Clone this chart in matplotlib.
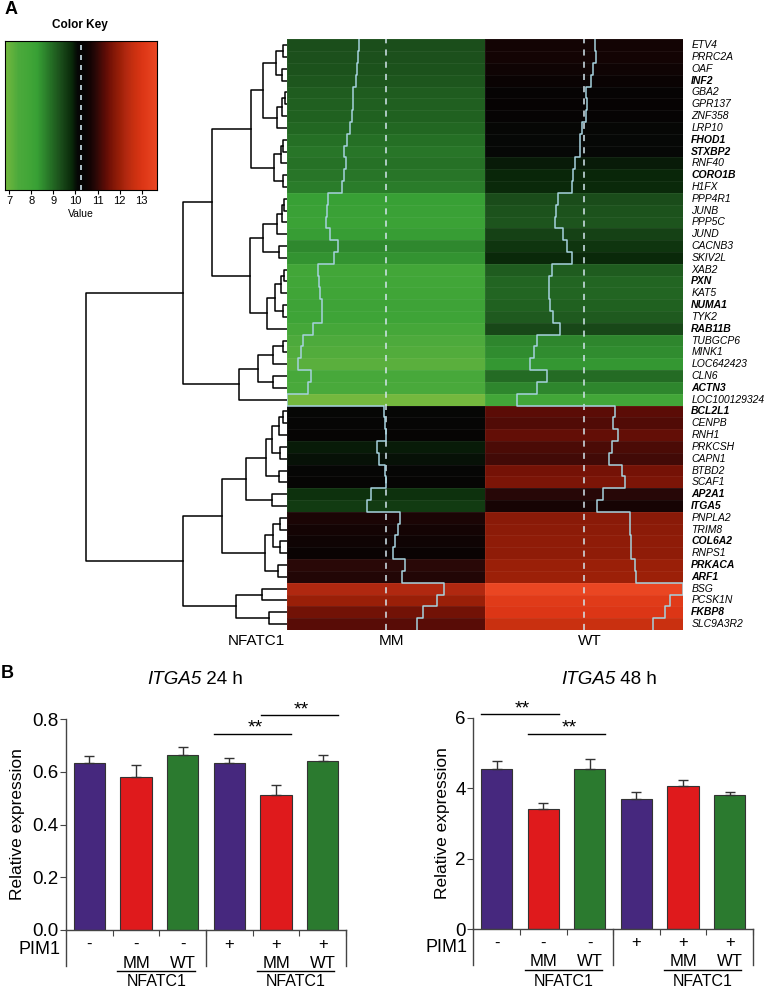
import matplotlib
matplotlib.use('Agg')
import matplotlib.pyplot as plt
import matplotlib.ticker as mticker
import matplotlib.transforms as mtrans
import numpy as np
from matplotlib.colors import LinearSegmentedColormap, Normalize

plt.rcParams['font.family'] = ['Liberation Sans', 'DejaVu Sans']

W, H = 768, 992

# ----------------------------------------
# Heatmap data (panel A)
# ----------------------------------------
genes = ['ETV4', 'PRRC2A', 'OAF', 'INF2', 'GBA2', 'GPR137', 'ZNF358', 'LRP10',
         'FHOD1', 'STXBP2', 'RNF40', 'CORO1B', 'H1FX', 'PPP4R1', 'JUNB', 'PPP5C',
         'JUND', 'CACNB3', 'SKIV2L', 'XAB2', 'PXN', 'KAT5', 'NUMA1', 'TYK2',
         'RAB11B', 'TUBGCP6', 'MINK1', 'LOC642423', 'CLN6', 'ACTN3', 'LOC100129324',
         'BCL2L1', 'CENPB', 'RNH1', 'PRKCSH', 'CAPN1', 'BTBD2', 'SCAF1', 'AP2A1',
         'ITGA5', 'PNPLA2', 'TRIM8', 'COL6A2', 'RNPS1', 'PRKACA', 'ARF1', 'BSG',
         'PCSK1N', 'FKBP8', 'SLC9A3R2']
bold_genes = ['INF2', 'FHOD1', 'STXBP2', 'CORO1B', 'PXN', 'NUMA1', 'RAB11B', 'ACTN3',
              'BCL2L1', 'AP2A1', 'ITGA5', 'COL6A2', 'PRKACA', 'ARF1', 'FKBP8']
mm_values = [9.32, 9.29, 9.26, 9.21, 9.12, 9.10, 9.07, 9.00, 8.89, 8.80, 8.86, 8.80,
             8.72, 8.25, 8.19, 8.17, 8.30, 8.57, 8.43, 7.88, 7.93, 7.96, 8.04, 8.02,
             7.73, 7.38, 7.29, 7.18, 7.63, 7.55, 6.82, 10.19, 10.22, 10.26, 9.93,
             10.02, 10.22, 10.26, 9.72, 9.60, 10.74, 10.68, 10.57, 10.49, 10.92,
             10.82, 12.29, 12.02, 11.56, 11.32]
wt_values = [10.63, 10.65, 10.55, 10.48, 10.33, 10.36, 10.31, 10.17, 10.11, 10.09,
             9.93, 9.87, 9.82, 9.35, 9.27, 9.23, 9.50, 9.67, 9.84, 9.12, 9.03, 9.03,
             9.07, 9.16, 9.41, 8.60, 8.52, 8.37, 8.94, 8.60, 7.90, 11.34, 11.27,
             11.43, 11.21, 11.13, 11.58, 11.67, 10.89, 10.70, 11.83, 11.85, 11.87,
             11.88, 12.02, 12.05, 13.70, 13.24, 13.06, 12.65]
columns = ['MM', 'WT']
key_min, key_max = 6.8, 13.7
key_ticks = [7, 8, 9, 10, 11, 12, 13]

# row dendrogram: (left, right, height), leaves are row indices
tree = (
    ((((((0, 1, 12), (2, 3, 14), 32), ((((4, 5, 6), 6, 14), 7, 30)), 70),
       ((((8, 9, 10), 10, 18), (11, 12, 12), 38)), 107),
      (((((13, 14, 8), 15, 14), 16, 30), (17, 18, 22), 72),
       (((((19, 20, 8), 21, 18), (22, 23, 12), 36), 24, 60)), 110), 225),
     (((((25, 26, 12), 27, 40), (28, 29, 40), 87), 30, 142)), 312),
    ((((((((31, 32, 10), 33, 22), (34, 35, 20), 44), (36, 37, 24), 62),
         (38, 39, 44), 122),
       (((40, 41, 20), (42, 43, 20), 42), (44, 45, 26), 64), 194),
      ((46, 47, 74), (48, 49, 54), 152), 312)),
    602)

# ----------------------------------------
# Bar chart data (panel B)
# ----------------------------------------
pim1 = ['-', '-', '-', '+', '+', '+']
nfatc1 = ['', 'MM', 'WT', '', 'MM', 'WT']
itga5_24h = [0.633, 0.580, 0.663, 0.633, 0.513, 0.641]
itga5_24h_err = [0.025, 0.046, 0.031, 0.021, 0.037, 0.023]
itga5_48h = [4.54, 3.42, 4.54, 3.69, 4.08, 3.81]
itga5_48h_err = [0.23, 0.15, 0.29, 0.21, 0.15, 0.09]
sig_24h = [(3, 4, 0.745), (4, 5, 0.815)]
sig_48h = [(0, 1, 6.1), (1, 2, 5.55)]
bar_colors = ['#46287e', '#df1a1c', '#2b7a2f'] * 2


def box(x0, y0, x1, y1):
    return [x0 / W, 1 - y1 / H, (x1 - x0) / W, (y1 - y0) / H]


fig = plt.figure(figsize=(W / 100, H / 100), dpi=100)

# ----------------------------------------
# Color key
# ----------------------------------------
cmap = LinearSegmentedColormap.from_list('key', [
    (0.000, '#74b83e'), (0.084, '#4caa3c'), (0.157, '#42a638'), (0.210, '#38a035'),
    (0.278, '#2a7c2a'), (0.319, '#226622'), (0.365, '#1b4e1b'), (0.438, '#0a2a0a'),
    (0.477, '#060806'), (0.522, '#060303'), (0.565, '#160404'), (0.597, '#2a0807'),
    (0.658, '#5a0c06'), (0.693, '#741206'), (0.729, '#8a1a08'), (0.761, '#9c2008'),
    (0.796, '#b02810'), (0.848, '#c83010'), (0.907, '#dc3616'), (1.000, '#ea4622')])
norm = Normalize(key_min, key_max)
mid = (key_min + key_max) / 2

kax = fig.add_axes(box(5, 41, 157, 190))
grad = np.linspace(key_min, key_max, 300).reshape(1, -1)
kax.imshow(grad, cmap=cmap, norm=norm, aspect='auto',
           extent=[key_min, key_max, 0, 1])
kax.axvline(mid, color='#cde3ec', lw=1.2, ls=(0, (3, 3)))
kax.set_xlim(key_min, key_max)
kax.set_yticks([])
kax.set_xticks(key_ticks)
kax.tick_params(axis='x', labelsize=8, length=3, pad=1.5)
kax.set_xlabel('Value', fontsize=7.5, labelpad=2)
fig.text(80 / W, 1 - 25 / H, 'Color Key', fontsize=8.5, weight='bold',
         ha='center', va='center')
fig.text(11 / W, 1 - 10 / H, 'A', fontsize=13, weight='bold', ha='center', va='center')

# ----------------------------------------
# Heatmap
# ----------------------------------------
n = len(genes)
data = np.column_stack([mm_values, wt_values])
hax = fig.add_axes(box(286.7, 39.3, 683.3, 630))
hax.pcolormesh(np.arange(3), np.arange(n + 1), data, cmap=cmap, norm=norm,
               edgecolors=(1, 1, 1, 0.05), linewidth=0.4)
for j in range(2):
    vals = np.array(data[:, j])
    fx = j + (vals - key_min) / (key_max - key_min)
    xs = np.repeat(fx, 2)
    ys = np.column_stack([np.arange(n), np.arange(n) + 1]).ravel()
    hax.axvline(j + 0.5, color='#d4e6ee', lw=1.1, ls=(0, (4, 4)))
    hax.plot(xs, ys, color='#a6d2de', lw=1.1)
    hax.text(j + 0.53, n + 0.95, columns[j], fontsize=11, ha='center', va='center')
hax.text(-0.01, n + 0.95, 'NFATC1', fontsize=11, ha='right', va='center')
for i, g in enumerate(genes):
    hax.text(2.04, i + 0.5, g, fontsize=7.5, style='italic',
             weight='bold' if g in bold_genes else 'normal', va='center', ha='left')
hax.set_xlim(0, 2)
hax.set_ylim(n, 0)
hax.axis('off')

# dendrogram
dax = fig.add_axes(box(60, 39.3, 286.7, 630))


def draw_tree(ax, node):
    if isinstance(node, int):
        return node + 0.5, 0.0
    a, b, h = node
    ya, ha = draw_tree(ax, a)
    yb, hb = draw_tree(ax, b)
    ax.plot([ha, h, h, hb], [ya, ya, yb, yb], color='black', lw=1.1)
    return (ya + yb) / 2, h


draw_tree(dax, tree)
dax.set_xlim(680, 0)
dax.set_ylim(n, 0)
dax.axis('off')

# ----------------------------------------
# Bar charts
# ----------------------------------------
fig.text(7 / W, 1 - 674 / H, 'B', fontsize=13, weight='bold', ha='center', va='center')
renderer = fig.canvas.get_renderer()


def title_text(gene, rest, cx, cy):
    # italic gene name followed by plain text, centred as one line
    t1 = fig.text(0, 1 - cy / H, gene, fontsize=13.5, style='italic', ha='left', va='center')
    t2 = fig.text(0, 1 - cy / H, rest, fontsize=13.5, ha='left', va='center')
    w1 = t1.get_window_extent(renderer).width
    w2 = t2.get_window_extent(renderer).width
    x0 = cx - (w1 + w2) / 2
    t1.set_x(x0 / W)
    t2.set_x((x0 + w1) / W)


def bar_panel(rect, values, errs, ymax, yticks, fmt, sigs, labelpad):
    ax = fig.add_axes(box(*rect))
    x = np.arange(len(values))
    ax.bar(x, values, width=0.67, color=bar_colors, edgecolor='#333333', linewidth=0.8,
           yerr=[np.zeros(len(errs)), errs], capsize=3.5,
           error_kw=dict(elinewidth=1, capthick=1, ecolor='#333333'), zorder=2)
    ax.set_xlim(-0.5, 5.5)
    ax.set_ylim(0, ymax)
    ax.set_yticks(yticks)
    ax.yaxis.set_major_formatter(mticker.FormatStrFormatter(fmt))
    ax.spines['top'].set_visible(False)
    ax.spines['right'].set_visible(False)
    for s in ['left', 'bottom']:
        ax.spines[s].set_color('#444444')
        ax.spines[s].set_linewidth(1)
    ax.set_xticks([0.5, 1.5, 2.5, 3.5, 4.5, 5.5])
    ax.set_xticklabels([])
    ax.tick_params(axis='x', length=4, color='#444444', direction='out')
    ax.tick_params(axis='y', length=4, labelsize=13.5, color='#444444', pad=1.5)
    ax.set_ylabel('Relative expression', fontsize=12.5, labelpad=labelpad)

    trans = mtrans.blended_transform_factory(ax.transData, ax.transAxes)
    px = 1 / (rect[3] - rect[1])  # one pixel in axes fraction
    for xv in [-0.5, 2.5, 5.5]:
        ax.plot([xv, xv], [0, -36 * px], color='#444444', lw=1, transform=trans,
                clip_on=False)
    ax.text(-0.62, -19 * px, 'PIM1', fontsize=13, ha='right', va='center',
            transform=trans)
    for i in range(len(values)):
        ax.text(i, -14 * px, pim1[i], fontsize=12, ha='center', va='center',
                transform=trans)
        if nfatc1[i]:
            ax.text(i, -33 * px, nfatc1[i], fontsize=12, ha='center', va='center',
                    transform=trans)
    for g0, g1 in [(0.6, 2.27), (3.6, 5.25)]:
        ax.plot([g0, g1], [-41 * px, -41 * px], color='black', lw=1, transform=trans,
                clip_on=False)
        ax.text((g0 + g1) / 2, -52 * px, 'NFATC1', fontsize=11.5, ha='center',
                va='center', transform=trans)

    for i, j, y in sigs:
        ax.plot([i - 0.33, j + 0.33], [y, y], color='black', lw=1, clip_on=False)
        ax.text((i + j) / 2 + 0.05, y - 3 * ymax / 211, '**', fontsize=14,
                ha='center', va='bottom', clip_on=False)
    return ax


bar_panel((66, 719, 346, 930), itga5_24h, itga5_24h_err, 0.8,
          [0.0, 0.2, 0.4, 0.6, 0.8], '%.1f', sig_24h, 5)
bar_panel((473.3, 718, 753, 929), itga5_48h, itga5_48h_err, 6,
          [0, 2, 4, 6], '%d', sig_48h, 4)
title_text('ITGA5', ' 24 h', 195, 680)
title_text('ITGA5', ' 48 h', 609, 680)

fig.savefig('out.png', dpi=100)
